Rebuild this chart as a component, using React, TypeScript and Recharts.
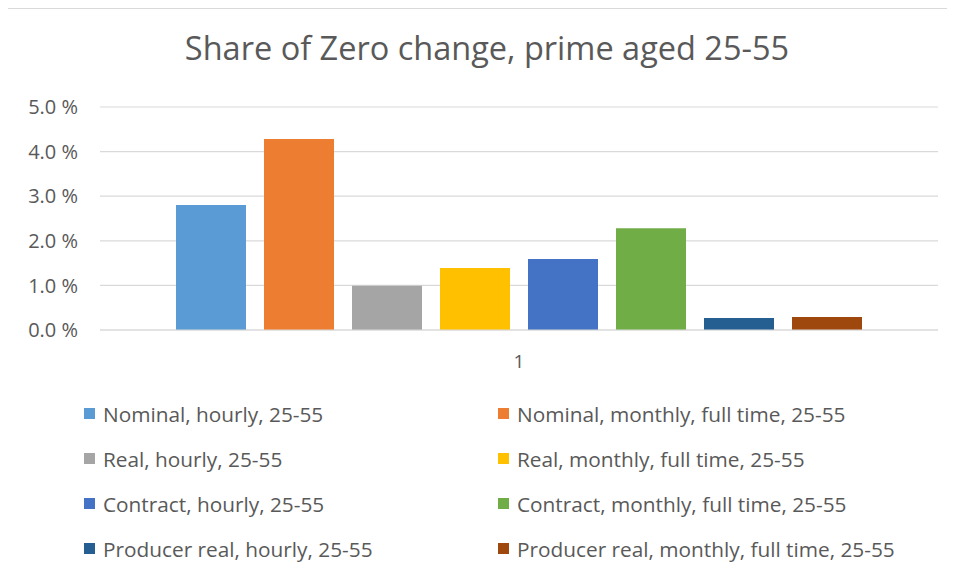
import React from 'react';
import { BarChart, Bar, XAxis, YAxis, CartesianGrid } from 'recharts';

const categories = ['1'];

const seriesNames = [
  'Nominal, hourly, 25-55',
  'Nominal, monthly, full time, 25-55',
  'Real, hourly, 25-55',
  'Real, monthly, full time, 25-55',
  'Contract, hourly, 25-55',
  'Contract, monthly, full time, 25-55',
  'Producer real, hourly, 25-55',
  'Producer real, monthly, full time, 25-55',
];

// share of zero change, percent
const seriesValues = [2.8, 4.28, 0.99, 1.39, 1.59, 2.28, 0.27, 0.29];

const seriesColors = [
  '#5B9BD5',
  '#ED7D31',
  '#A5A5A5',
  '#FFC000',
  '#4472C4',
  '#70AD47',
  '#255E91',
  '#9E480E',
];

const yTicks = [0, 1, 2, 3, 4, 5];

const FONT = "'Open Sans', sans-serif";
const TEXT = '#595959';

// one row per category, one key per series
const chartData = categories.map((name) => {
  const row: Record<string, string | number> = { name };
  seriesNames.forEach((s, i) => {
    row['s' + i] = seriesValues[i];
  });
  return row;
});

function LegendGrid() {
  return (
    <div
      style={{
        position: 'absolute',
        left: 76,
        top: 393,
        display: 'grid',
        gridTemplateColumns: '414px 440px',
        rowGap: 20,
        fontFamily: FONT,
        fontSize: 20.8,
        color: TEXT,
      }}
    >
      {seriesNames.map((s, i) => (
        <div key={s} style={{ display: 'flex', alignItems: 'center', height: 25, whiteSpace: 'nowrap' }}>
          <span
            style={{
              display: 'inline-block',
              width: 11,
              height: 11,
              background: seriesColors[i],
              marginRight: 8,
            }}
          />
          {s}
        </div>
      ))}
    </div>
  );
}

export default function App() {
  return (
    <div
      style={{
        position: 'relative',
        width: 947,
        height: 573,
        background: '#fff',
      }}
    >
      <div
        style={{
          position: 'absolute',
          left: -2,
          top: 0,
          width: 2,
          height: 573,
          background: '#d9d9d9',
        }}
      />
      <div
        style={{
          position: 'absolute',
          left: 0,
          top: 0,
          width: 947,
          height: 1,
          background: '#d9d9d9',
        }}
      />
      <div
        style={{
          position: 'absolute',
          left: 0,
          width: 958,
          top: 17,
          textAlign: 'center',
          fontFamily: FONT,
          fontSize: 32.5,
          color: TEXT,
        }}
      >
        Share of Zero change, prime aged 25-55
      </div>
      <BarChart
        width={947}
        height={573}
        data={chartData}
        margin={{ top: 99, right: 17, bottom: 221, left: 0 }}
        barSize={70}
        barGap={18}
        style={{ position: 'absolute', left: 0, top: 0 }}
      >
        <CartesianGrid vertical={false} stroke="#d9d9d9" strokeWidth={1.2} />
        <XAxis
          dataKey="name"
          axisLine={{ stroke: '#d9d9d9' }}
          tickLine={false}
          height={30}
          tickMargin={19}
          tick={{ fill: TEXT, fontSize: 19, fontFamily: FONT }}
        />
        <YAxis
          width={92}
          domain={[0, 5]}
          ticks={yTicks}
          axisLine={false}
          tickLine={false}
          tickMargin={16}
          tickFormatter={(v: number) => v.toFixed(1) + '\u00a0%'}
          tick={{ fill: TEXT, fontSize: 20, fontFamily: FONT }}
        />
        {seriesNames.map((s, i) => (
          <Bar
            key={s}
            dataKey={'s' + i}
            name={s}
            fill={seriesColors[i]}
            isAnimationActive={false}
          />
        ))}
      </BarChart>
      <LegendGrid />
    </div>
  );
}
